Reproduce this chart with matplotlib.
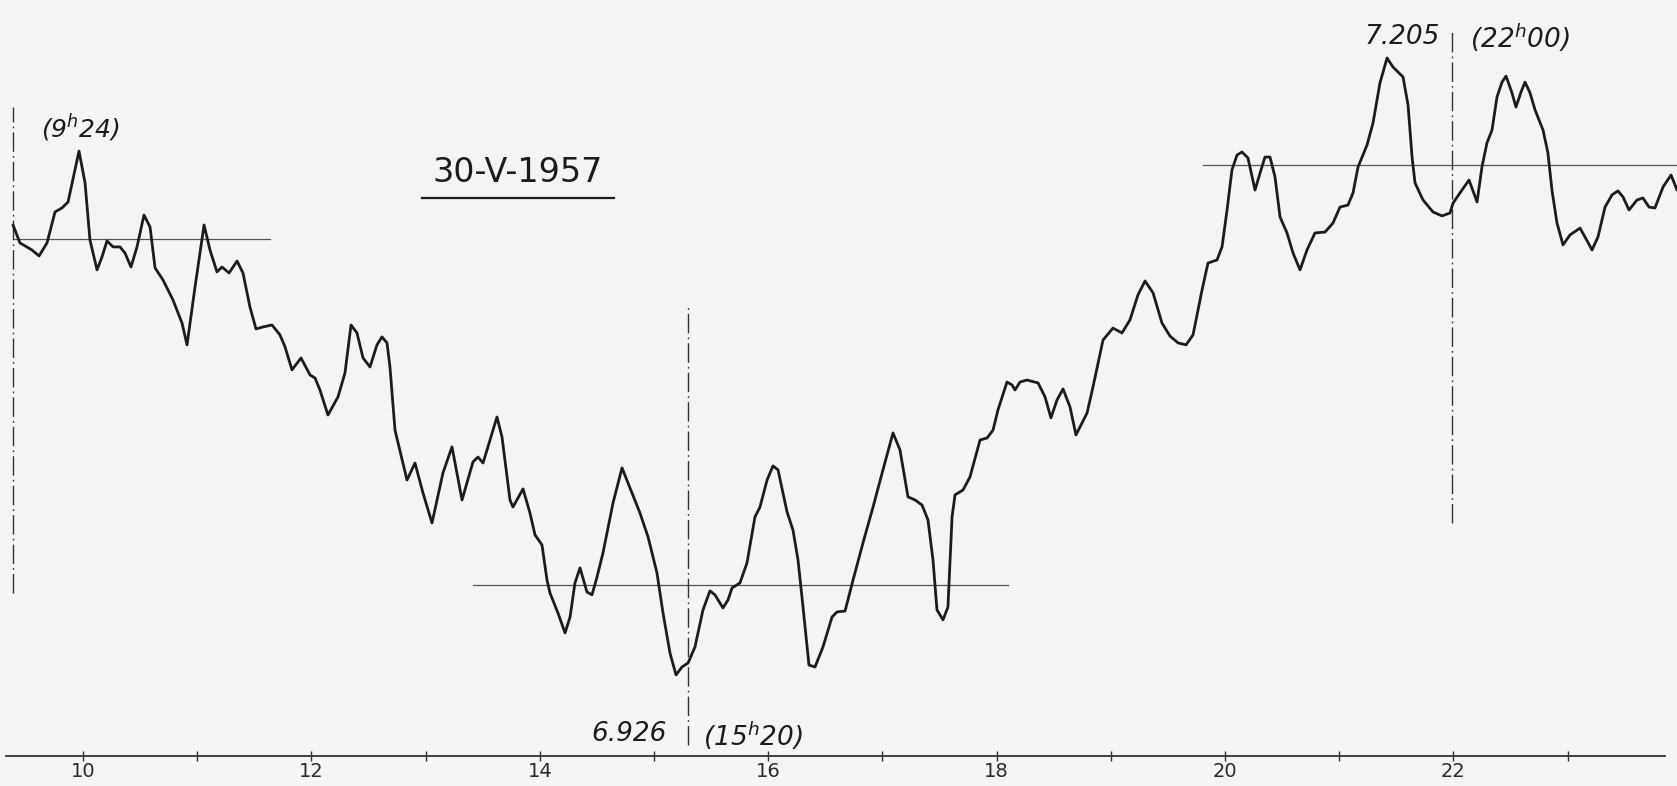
import matplotlib
matplotlib.use("Agg")
import matplotlib.pyplot as plt
from matplotlib.ticker import FixedLocator

# ---- data (time in hours, recorded value) ----
hours = [9.387, 9.448, 9.553, 9.615, 9.685, 9.755, 9.816, 9.869, 9.965, 10.018,
         10.061, 10.123, 10.166, 10.210, 10.263, 10.324, 10.368, 10.420, 10.473, 10.534,
         10.587, 10.631, 10.701, 10.788, 10.867, 10.911, 10.981, 11.060, 11.112, 11.173,
         11.217, 11.279, 11.349, 11.401, 11.462, 11.515, 11.576, 11.655, 11.725, 11.769,
         11.830, 11.909, 11.988, 12.032, 12.075, 12.145, 12.233, 12.294, 12.347, 12.399,
         12.452, 12.513, 12.574, 12.618, 12.662, 12.688, 12.732, 12.837, 12.907, 12.977,
         13.056, 13.152, 13.231, 13.319, 13.415, 13.459, 13.503, 13.564, 13.625, 13.669,
         13.739, 13.765, 13.853, 13.914, 13.958, 14.019, 14.063, 14.089, 14.159, 14.221,
         14.265, 14.308, 14.352, 14.413, 14.457, 14.501, 14.553, 14.641, 14.720, 14.790,
         14.877, 14.948, 15.026, 15.079, 15.140, 15.193, 15.245, 15.298, 15.359, 15.429,
         15.490, 15.534, 15.604, 15.648, 15.683, 15.753, 15.814, 15.884, 15.928, 15.990,
         16.042, 16.086, 16.165, 16.217, 16.261, 16.305, 16.357, 16.410, 16.480, 16.559,
         16.603, 16.673, 16.743, 16.830, 16.918, 17.005, 17.093, 17.154, 17.224, 17.286,
         17.347, 17.399, 17.443, 17.478, 17.531, 17.574, 17.610, 17.636, 17.706, 17.767,
         17.855, 17.916, 17.969, 18.012, 18.091, 18.135, 18.161, 18.205, 18.266, 18.363,
         18.424, 18.476, 18.529, 18.582, 18.643, 18.695, 18.792, 18.844, 18.932, 19.019,
         19.098, 19.168, 19.238, 19.300, 19.370, 19.448, 19.518, 19.589, 19.659, 19.720,
         19.799, 19.851, 19.930, 19.974, 20.018, 20.061, 20.105, 20.149, 20.201, 20.263,
         20.307, 20.350, 20.394, 20.438, 20.482, 20.543, 20.596, 20.657, 20.718, 20.788,
         20.876, 20.946, 21.007, 21.077, 21.121, 21.165, 21.244, 21.296, 21.357, 21.419,
         21.471, 21.559, 21.603, 21.638, 21.664, 21.734, 21.821, 21.900, 21.970, 21.997,
         22.075, 22.137, 22.207, 22.250, 22.294, 22.338, 22.382, 22.426, 22.461, 22.513,
         22.548, 22.592, 22.627, 22.671, 22.715, 22.785, 22.828, 22.863, 22.907, 22.960,
         23.021, 23.109, 23.152, 23.214, 23.266, 23.328, 23.389, 23.441, 23.485, 23.538,
         23.608, 23.660, 23.713, 23.765, 23.836, 23.906, 23.958]

values = [7.1294, 7.1213, 7.1181, 7.1154, 7.1213, 7.1353, 7.1371, 7.1398, 7.1628, 7.1484,
          7.1226, 7.1091, 7.1149, 7.1222, 7.1195, 7.1195, 7.1167, 7.1104, 7.1195, 7.1339,
          7.1285, 7.1100, 7.1045, 7.0955, 7.0851, 7.0752, 7.1014, 7.1294, 7.1181, 7.1082,
          7.1104, 7.1077, 7.1131, 7.1077, 7.0923, 7.0824, 7.0833, 7.0842, 7.0797, 7.0743,
          7.0639, 7.0693, 7.0616, 7.0602, 7.0548, 7.0435, 7.0517, 7.0625, 7.0842, 7.0806,
          7.0693, 7.0652, 7.0752, 7.0788, 7.0761, 7.0652, 7.0367, 7.0141, 7.0218, 7.0083,
          6.9947, 7.0173, 7.0291, 7.0051, 7.0223, 7.0245, 7.0218, 7.0322, 7.0426, 7.0336,
          7.0051, 7.0019, 7.0101, 6.9992, 6.9893, 6.9848, 6.9689, 6.9631, 6.9540, 6.9450,
          6.9522, 6.9676, 6.9744, 6.9635, 6.9622, 6.9703, 6.9811, 7.0037, 7.0196, 7.0105,
          6.9992, 6.9884, 6.9721, 6.9540, 6.9359, 6.9260, 6.9296, 6.9314, 6.9387, 6.9554,
          6.9640, 6.9622, 6.9563, 6.9599, 6.9653, 6.9676, 6.9766, 6.9974, 7.0019, 7.0141,
          7.0205, 7.0187, 6.9997, 6.9915, 6.9780, 6.9567, 6.9305, 6.9296, 6.9387, 6.9522,
          6.9545, 6.9549, 6.9689, 6.9857, 7.0019, 7.0187, 7.0354, 7.0277, 7.0065, 7.0051,
          7.0028, 6.9961, 6.9780, 6.9554, 6.9509, 6.9567, 6.9974, 7.0074, 7.0096, 7.0155,
          7.0322, 7.0331, 7.0367, 7.0458, 7.0584, 7.0571, 7.0548, 7.0584, 7.0593, 7.0580,
          7.0517, 7.0422, 7.0503, 7.0553, 7.0471, 7.0345, 7.0444, 7.0562, 7.0774, 7.0828,
          7.0806, 7.0865, 7.0978, 7.1041, 7.0987, 7.0851, 7.0792, 7.0761, 7.0752, 7.0797,
          7.1000, 7.1122, 7.1136, 7.1195, 7.1362, 7.1543, 7.1610, 7.1624, 7.1597, 7.1452,
          7.1529, 7.1601, 7.1601, 7.1511, 7.1330, 7.1258, 7.1167, 7.1091, 7.1181, 7.1258,
          7.1262, 7.1303, 7.1375, 7.1384, 7.1439, 7.1556, 7.1656, 7.1755, 7.1936, 7.2049,
          7.2008, 7.1963, 7.1836, 7.1601, 7.1484, 7.1407, 7.1353, 7.1335, 7.1348, 7.1393,
          7.1452, 7.1497, 7.1398, 7.1556, 7.1665, 7.1723, 7.1873, 7.1940, 7.1967, 7.1891,
          7.1827, 7.1895, 7.1940, 7.1891, 7.1814, 7.1723, 7.1619, 7.1452, 7.1303, 7.1204,
          7.1249, 7.1280, 7.1240, 7.1181, 7.1240, 7.1375, 7.1430, 7.1448, 7.1421, 7.1362,
          7.1407, 7.1416, 7.1375, 7.1371, 7.1466, 7.1520, 7.1452]

# reference levels: (value, start hour, end hour)
level_values = [7.1231, 6.9667, 7.1565]
level_starts = [9.387, 13.415, 19.807]
level_ends = [11.637, 18.100, 23.958]

# marked instants: (hour, bottom value, top value)
mark_hours = [9.387, 15.298, 21.990]
mark_bottoms = [6.9631, 6.8944, 6.9947]
mark_tops = [7.1827, 7.0937, 7.2180]

tick_major = [10, 12, 14, 16, 18, 20, 22]
tick_minor = [11, 13, 15, 17, 19, 21, 23]
axis_level = 6.8894

title_text = "30-V-1957"

ink = "#1c1c1c"
paper = "#f4f4f2"

fig = plt.figure(figsize=(16.77, 7.86), dpi=100, facecolor=paper)
ax = fig.add_axes([0, 0, 1, 1])
ax.set_facecolor("none")
ax.set_xlim(9.2732, 23.958)
ax.set_ylim(6.8758, 7.2311)

# reference level lines
for v, a, b in zip(level_values, level_starts, level_ends):
    ax.plot([a, b], [v, v], color="#555555", lw=0.9, zorder=1)

# vertical dash-dot markers
for h, lo, hi in zip(mark_hours, mark_bottoms, mark_tops):
    ax.plot([h, h], [lo, hi], color="#333333", lw=1.0,
            linestyle=(0, (14, 3, 1.2, 3)), zorder=1)

# main curve
ax.plot(hours, values, color=ink, lw=2.0, solid_joinstyle="round",
        solid_capstyle="round", zorder=3)

# bottom axis
for s in ["top", "right", "left"]:
    ax.spines[s].set_visible(False)
ax.spines["bottom"].set_position(("data", axis_level))
ax.spines["bottom"].set_bounds(9.33, 23.85)
ax.spines["bottom"].set_color("#333333")
ax.spines["bottom"].set_linewidth(1.3)
ax.yaxis.set_visible(False)
ax.xaxis.set_major_locator(FixedLocator(tick_major))
ax.xaxis.set_minor_locator(FixedLocator(tick_minor))
ax.set_xticklabels([str(t) for t in tick_major])
ax.tick_params(axis="x", which="both", direction="inout", length=7, width=1.0,
               color="#333333", labelsize=14, labelcolor="#2a2a2a", pad=1)

# annotations
ax.text(9.974, 7.1732, "(9$^h$24)", fontsize=18, style="italic", color=ink,
        ha="center", va="center")
ax.text(13.809, 7.1530, title_text, fontsize=24, color=ink, ha="center", va="center")
ax.plot([12.969, 14.650], [7.1416, 7.1416], color=ink, lw=1.6)
ax.text(15.114, 6.8995, "6.926", fontsize=19, style="italic", color=ink,
        ha="right", va="center")
ax.text(15.429, 6.8985, "(15$^h$20)", fontsize=19, style="italic", color=ink,
        ha="left", va="center")
ax.text(21.883, 7.2144, "7.205", fontsize=19, style="italic", color=ink,
        ha="right", va="center")
ax.text(22.146, 7.2139, "(22$^h$00)", fontsize=19, style="italic", color=ink,
        ha="left", va="center")

fig.savefig("out.png", dpi=100, facecolor=paper)
